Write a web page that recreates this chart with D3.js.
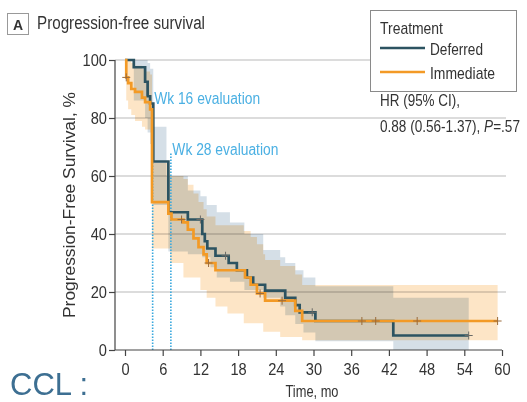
<!DOCTYPE html>
<html>
<head>
<meta charset="utf-8">
<script src="https://cdn.jsdelivr.net/npm/d3@7"></script>
<style>
  html, body { margin: 0; padding: 0; background: #fff; }
  svg { display: block; }
</style>
</head>
<body>
<svg id="chart" width="527" height="402"></svg>
<script>
// ---------------- data ----------------
const xTicks = [0, 6, 12, 18, 24, 30, 36, 42, 48, 54, 60];
const yTicks = [0, 20, 40, 60, 80, 100];

const deferredTime = [0, 1.4, 3.2, 3.6, 4.0, 4.5, 6.9, 10.0, 12.3, 12.7, 13.1, 14.4, 16.5, 17.8, 19.4, 20.4, 22.3, 25.5, 27.1, 27.8, 30.3, 42.7, 54.7];
const deferredSurv = [100, 97.5, 92.5, 87.5, 85, 65, 47.5, 45, 40, 37.5, 35, 32.5, 30, 27.5, 25, 22.5, 20.5, 18, 15.5, 13, 10, 5, 5];

const immediateTime = [0, 0.2, 0.5, 1.0, 1.6, 2.7, 3.2, 4.0, 4.3, 6.9, 7.4, 9.3, 10.0, 10.9, 11.7, 12.5, 13.0, 14.4, 19.1, 20.0, 21.0, 22.3, 27.1, 28.2, 59.3];
const immediateSurv = [100, 94, 92, 90, 89, 87, 85.5, 83, 51, 47, 45, 44, 41.5, 38.5, 35.5, 33, 30, 27.5, 25, 22.5, 19.5, 17, 13.5, 10, 10];

const deferredCensor = [12.0, 16.0, 29.8, 54.7];
const immediateCensor = [0.2, 9.0, 13.3, 21.5, 25.0, 37.7, 39.9, 46.5, 59.3];

const deferredBandTime = [0, 1.4, 3.2, 3.6, 4.0, 4.5, 6.6, 6.9, 10.0, 12.0, 12.3, 13.0, 13.6, 14.6, 16.7, 19.0, 22.0, 24.7, 25.5, 27.1, 28.4, 30.3, 42.7, 54.7];
const deferredUpper = [100, 100, 100, 99, 97, 77, 60, 60, 55, 53, 53, 50, 50, 47.5, 44, 40, 34.5, 32, 30, 27.5, 25, 22, 18, 18];
const deferredLower = [100, 86, 80, 75, 71, 50, 50, 34, 33, 33, 32, 32, 28.5, 25, 23.5, 20.7, 18, 15, 12, 9, 6, 3, 0, 0];

const immediateBandTime = [0, 0.2, 0.5, 1.0, 1.6, 2.7, 3.2, 4.0, 4.3, 6.9, 7.2, 9.3, 10.0, 10.9, 11.7, 12.0, 12.5, 13.0, 14.4, 16.3, 18.9, 20.0, 21.0, 22.0, 22.3, 24.7, 27.1, 28.2, 59.3];
const immediateUpper = [100, 100, 100, 99, 98, 97, 96, 95, 64.5, 62, 60, 59, 57, 54, 51, 51, 48.5, 46, 43, 43, 41, 39, 36.5, 33, 31, 29, 26, 22.4, 22.4];
const immediateLower = [100, 86, 83, 81, 79, 77, 76, 75, 35, 35, 30, 25, 25, 25, 25, 20.7, 20.7, 18, 15, 12.6, 9.2, 9.2, 9.2, 6.3, 6.3, 4.5, 4.5, 3.4, 3.4];

const evalTimes = [4.4, 7.3];
const evalTops = [82, 68];
const evalLabels = ["Wk 16 evaluation", "Wk 28 evaluation"];

const seriesNames = ["Deferred", "Immediate"];

// ---------------- drawing ----------------
const FONT = "'Liberation Sans', Arial, sans-serif";
const C_DEF = "#2c5361", C_IMM = "#f39a26";
const TXT = "#333";
const svg = d3.select("#chart").style("font-family", FONT);

// squeeze text horizontally (narrow face look)
function fitWidth(sel, w) {
  sel.attr("textLength", w).attr("lengthAdjust", "spacingAndGlyphs");
}
function squeeze(sel, f) {
  sel.each(function () {
    const w = this.getComputedTextLength();
    d3.select(this).attr("textLength", w * f).attr("lengthAdjust", "spacingAndGlyphs");
  });
}

const x = d3.scaleLinear().domain([0, 60]).range([125, 502]);
const y = d3.scaleLinear().domain([0, 100]).range([350, 60]);

// grid
svg.append("g").selectAll("line").data(yTicks.filter(d => d > 0)).join("line")
  .attr("x1", 115).attr("x2", 506)
  .attr("y1", d => y(d)).attr("y2", d => y(d))
  .attr("stroke", "#d0d0d0").attr("stroke-width", 1.5);

// bands
function bandData(t, lo, hi) { return t.map((d, i) => ({ t: d, lo: lo[i], hi: hi[i] })); }
const area = d3.area().curve(d3.curveStepAfter)
  .x(d => x(d.t)).y0(d => y(d.lo)).y1(d => y(d.hi));
const bands = svg.append("g");
bands.append("path").datum(bandData(deferredBandTime, deferredLower, deferredUpper))
  .attr("d", area).attr("fill", "#d5dfe7").style("mix-blend-mode", "multiply");
bands.append("path").datum(bandData(immediateBandTime, immediateLower, immediateUpper))
  .attr("d", area).attr("fill", "#fde5c6").style("mix-blend-mode", "multiply");

// evaluation lines
const ev = svg.append("g");
ev.selectAll("line").data(evalTimes).join("line")
  .attr("x1", d => x(d)).attr("x2", d => x(d))
  .attr("y1", y(0)).attr("y2", (d, i) => y(evalTops[i]))
  .attr("stroke", "#39a8dd").attr("stroke-width", 1.6).attr("stroke-dasharray", "1.6,1.4");
ev.selectAll("text").data(evalLabels).join("text")
  .attr("x", (d, i) => x(evalTimes[i]) + 1.5)
  .attr("y", (d, i) => i === 0 ? 104 : 155)
  .attr("fill", "#4bb0e3").attr("font-size", 16).text(d => d)
  .call(fitWidth, 106);

// curves
const line = d3.line().curve(d3.curveStepAfter).x(d => x(d.t)).y(d => y(d.s));
function lineData(t, s) { return t.map((d, i) => ({ t: d, s: s[i] })); }
svg.append("path").datum(lineData(deferredTime, deferredSurv)).attr("d", line)
  .attr("fill", "none").attr("stroke", C_DEF).attr("stroke-width", 2.7);
svg.append("path").datum(lineData(immediateTime, immediateSurv)).attr("d", line)
  .attr("fill", "none").attr("stroke", C_IMM).attr("stroke-width", 2.7);

// censor marks
function valueAt(t, times, surv) {
  let v = surv[0];
  for (let i = 0; i < times.length; i++) if (times[i] <= t) v = surv[i];
  return v;
}
function censors(list, times, surv, color) {
  const g = svg.append("g").attr("stroke", color).attr("stroke-width", 1);
  list.forEach(t => {
    const cx = x(t), cy = y(valueAt(t, times, surv));
    g.append("line").attr("x1", cx - 4).attr("x2", cx + 4).attr("y1", cy).attr("y2", cy);
    g.append("line").attr("x1", cx).attr("x2", cx).attr("y1", cy - 4).attr("y2", cy + 4);
  });
}
censors(deferredCensor, deferredTime, deferredSurv, "#6a6a66");
censors(immediateCensor, immediateTime, immediateSurv, "#9a6a3a");

// axes
const axisColor = "#444";
svg.append("line").attr("x1", 115).attr("x2", 115).attr("y1", y(0)).attr("y2", y(100))
  .attr("stroke", axisColor).attr("stroke-width", 1.2);
svg.append("line").attr("x1", 115).attr("x2", x(60)).attr("y1", y(0)).attr("y2", y(0))
  .attr("stroke", axisColor).attr("stroke-width", 1.2);

const yAxis = svg.append("g").attr("transform", "translate(115,0)")
  .call(d3.axisLeft(y).tickValues(yTicks).tickSize(6).tickPadding(2));
const xAxis = svg.append("g").attr("transform", `translate(0,${y(0)})`)
  .call(d3.axisBottom(x).tickValues(xTicks).tickSize(6).tickPadding(7));
[yAxis, xAxis].forEach(a => {
  a.select(".domain").remove();
  a.selectAll(".tick line").attr("stroke", axisColor).attr("stroke-width", 1.2);
  a.selectAll(".tick text").attr("fill", TXT).attr("font-size", 17).attr("font-family", FONT)
    .call(squeeze, 0.86);
});

// axis titles
svg.append("text").attr("transform", "translate(75,205) rotate(-90)")
  .attr("text-anchor", "middle").attr("font-size", 17).attr("fill", TXT)
  .text("Progression-Free Survival, %").call(fitWidth, 226);
svg.append("text").attr("x", 312).attr("y", 397).attr("text-anchor", "middle")
  .attr("font-size", 17).attr("fill", TXT).text("Time, mo").call(fitWidth, 53);

// panel title
svg.append("rect").attr("x", 7.5).attr("y", 13.5).attr("width", 21).attr("height", 21)
  .attr("fill", "#fff").attr("stroke", "#999").attr("stroke-width", 1);
svg.append("text").attr("x", 18).attr("y", 29.5).attr("text-anchor", "middle")
  .attr("font-size", 14).attr("font-weight", "bold").attr("fill", TXT).text("A");
svg.append("text").attr("x", 37).attr("y", 29).attr("font-size", 18).attr("fill", TXT)
  .text("Progression-free survival").call(fitWidth, 168);

// legend
const lg = svg.append("g");
lg.append("rect").attr("x", 370.5).attr("y", 10.5).attr("width", 146).attr("height", 81)
  .attr("fill", "#fff").attr("stroke", "#8a8a8a").attr("stroke-width", 1);
lg.append("text").attr("x", 380).attr("y", 34).attr("font-size", 17).attr("fill", TXT)
  .text("Treatment").call(fitWidth, 63);
const legendWidths = [53, 65];
[C_DEF, C_IMM].forEach((c, i) => {
  const ly = 48 + i * 24;
  lg.append("line").attr("x1", 380).attr("x2", 425).attr("y1", ly).attr("y2", ly)
    .attr("stroke", c).attr("stroke-width", 2.7);
  lg.append("text").attr("x", 430).attr("y", ly + 7).attr("font-size", 17).attr("fill", TXT)
    .text(seriesNames[i]).call(fitWidth, legendWidths[i]);
});

// HR annotation
svg.append("text").attr("x", 380).attr("y", 106).attr("font-size", 17).attr("fill", TXT)
  .text("HR (95% CI),").call(fitWidth, 80);
const hrG = svg.append("g");
const hr = hrG.append("text").attr("x", 0).attr("y", 0).attr("font-size", 17).attr("fill", TXT);
hr.append("tspan").text("0.88 (0.56-1.37), ");
hr.append("tspan").attr("font-style", "italic").text("P");
hr.append("tspan").text("=.57");
const hrW = hr.node().getComputedTextLength();
hrG.attr("transform", `translate(380,132) scale(${140 / hrW},1)`);

// footer
svg.append("text").attr("x", 10).attr("y", 395).attr("font-size", 31)
  .attr("font-family", "'Liberation Sans', Arial, sans-serif").attr("fill", "#3d6f92").text("CCL :");
</script>
</body>
</html>
